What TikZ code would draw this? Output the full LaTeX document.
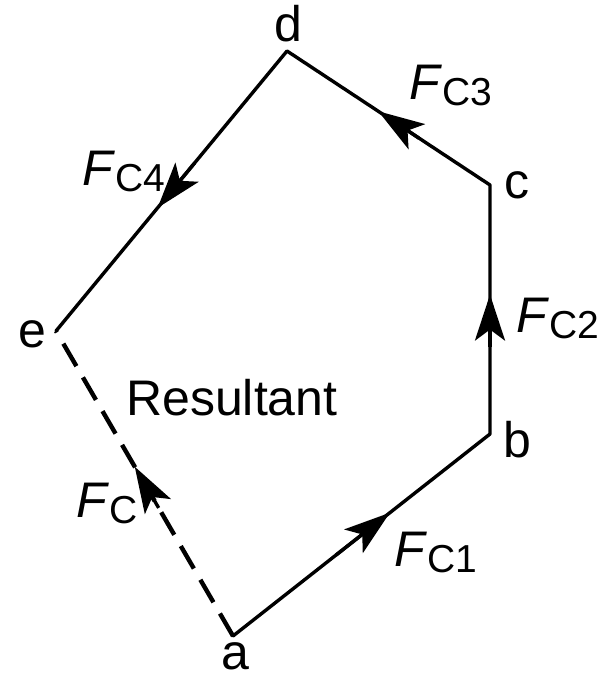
\documentclass[tikz,border=0pt]{standalone}
\usepackage{fontspec}
\setmainfont{Liberation Sans}
\usetikzlibrary{arrows.meta,calc}
\newcommand{\FC}[1]{\textit{F}\raisebox{-6pt}{\fontsize{39}{42}\selectfont C#1}}
\begin{document}
\begin{tikzpicture}[x=1pt,y=-1pt,
  edge/.style={line width=3.4pt,line cap=round,line join=round},
  res/.style={line width=4.4pt,dash pattern=on 26pt off 13pt},
  headarrow/.style={line width=3.4pt,-{Stealth[length=46pt,width=30pt,inset=11pt]}},
  lbl/.style={inner sep=0pt,font=\fontsize{50}{52}\selectfont},
  flbl/.style={inner sep=0pt,anchor=base west,font=\fontsize{50}{52}\selectfont}]
\useasboundingbox (0,0) rectangle (602,679);
\coordinate (a) at (233,636);
\coordinate (b) at (490,434);
\coordinate (c) at (490,185);
\coordinate (d) at (287,51);
\coordinate (e) at (56,331);
\draw[edge] (a) -- (b) -- (c) -- (d) -- (e);
\draw[res] (a) -- (e);
\draw[headarrow] ($(a)!0.4!(b)$) -- ($(a)!0.61!(b)$);
\draw[headarrow] ($(b)!0.35!(c)$) -- ($(b)!0.56!(c)$);
\draw[headarrow] ($(c)!0.35!(d)$) -- ($(c)!0.55!(d)$);
\draw[headarrow] ($(d)!0.4!(e)$) -- ($(d)!0.56!(e)$);
\draw[headarrow] ($(a)!0.42!(e)$) -- ($(a)!0.555!(e)$);
\node[lbl] (la) at (235,656) {a};
\node[lbl] (lb) at (517,440) {b};
\node[lbl] (lc) at (517,185) {c};
\node[lbl] (ld) at (288,24) {d};
\node[lbl] (le) at (32,334) {e};
\node[flbl] (f1) at (394,566) {\FC{1}};
\node[flbl] (f2) at (516,332) {\FC{2}};
\node[flbl] (f3) at (409,100) {\FC{3}};
\node[flbl] (f4) at (82,185) {\FC{4}};
\node[flbl] (f0) at (76,517) {\FC{}};
\node[flbl] (r) at (126,415) {Resultant};
\end{tikzpicture}
\end{document}
